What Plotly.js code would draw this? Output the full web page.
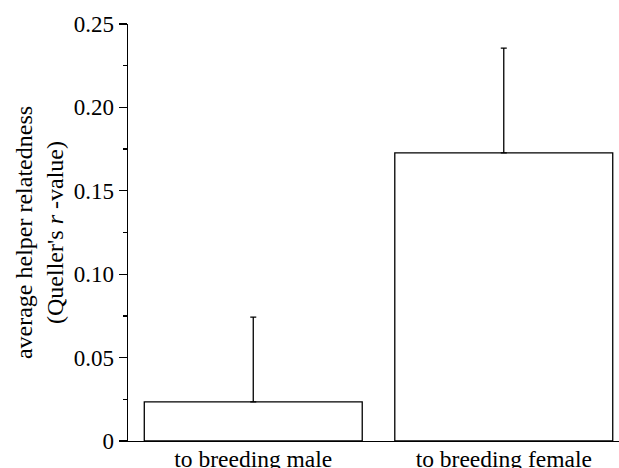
<!DOCTYPE html>
<html><head><meta charset="utf-8">
<script src="https://cdn.plot.ly/plotly-3.0.1.min.js"></script>
<style>body{margin:0;padding:0;background:#fff}#chart{width:619px;height:468px}</style>
</head><body><div id="chart"></div>
<script>
const categories = ["to breeding male", "to breeding female"];
const relatedness = [0.0235, 0.1727];
const errorUp = [0.0508, 0.0628];
const tickValues = [0, 0.05, 0.10, 0.15, 0.20, 0.25];
const tickLabels = ["0", "0.05", "0.10", "0.15", "0.20", "0.25"];

const font = "Liberation Serif, Times New Roman, serif";
Plotly.newPlot("chart", [{
  type: "bar",
  x: categories,
  y: relatedness,
  width: 0.87,
  marker: {color: "#ffffff", line: {color: "#000000", width: 1.3}},
  error_y: {type: "data", symmetric: false, array: errorUp, arrayminus: [0, 0],
            color: "#000000", thickness: 1.3, width: 3},
  hoverinfo: "none"
}], {
  width: 619, height: 468,
  margin: {l: 128, r: 0, t: 24, b: 27},
  paper_bgcolor: "#ffffff", plot_bgcolor: "#ffffff",
  showlegend: false,
  font: {family: font, color: "#000000"},
  xaxis: {
    range: [-0.5, 1.46], showline: true, linecolor: "#000", linewidth: 1.3,
    ticks: "", showgrid: false, zeroline: false, ticklabelstandoff: -4,
    tickfont: {size: 23.5, family: font}, automargin: false
  },
  yaxis: {
    range: [0, 0.25], showline: true, linecolor: "#000", linewidth: 1.3,
    ticks: "outside", ticklen: 8, tickwidth: 1.3, tickcolor: "#000",
    tickvals: tickValues, ticktext: tickLabels,
    minor: {tickvals: [0.025, 0.075, 0.125, 0.175, 0.225], ticks: "outside", ticklen: 4, tickwidth: 1.3, tickcolor: "#000", showgrid: false},
    showgrid: false, zeroline: false,
    tickfont: {size: 23, family: font},
    title: {text: "average helper relatedness<br>(Queller's <i>r</i> -value)", font: {size: 24, family: font}, standoff: 3},
    automargin: false
  }
}, {staticPlot: true});
</script></body></html>
